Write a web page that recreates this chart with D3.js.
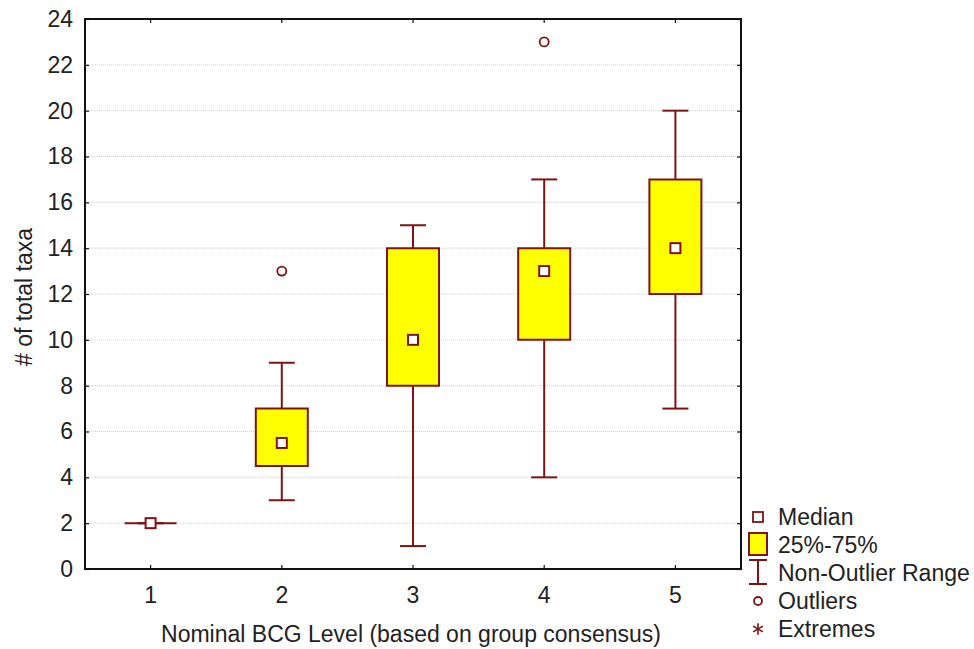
<!DOCTYPE html>
<html>
<head>
<meta charset="utf-8">
<script src="https://cdn.jsdelivr.net/npm/d3@7"></script>
<style>
  html, body { margin: 0; padding: 0; background: #fff; }
  svg { display: block; font-family: "Liberation Sans", Arial, sans-serif; }
</style>
</head>
<body>
<svg id="chart" width="974" height="649"></svg>
<script>
// BCG level groups and their box statistics
const levels = ["1", "2", "3", "4", "5"];
const medians = [2, 5.5, 10, 13, 14];
const q1 = [2, 4.5, 8, 10, 12];
const q3 = [2, 7, 14, 14, 17];
const whiskerLow = [2, 3, 1, 4, 7];
const whiskerHigh = [2, 9, 15, 17, 20];
const outliers = [[], [13], [], [23], []];
const yTicks = [0, 2, 4, 6, 8, 10, 12, 14, 16, 18, 20, 22, 24];
const legendItems = ["Median", "25%-75%", "Non-Outlier Range", "Outliers", "Extremes"];

(function draw() {
  const svg = d3.select("#chart");
  const plot = { left: 85, top: 19, right: 741, bottom: 569 };
  const MAROON = "#7d1414";
  const YELLOW = "#ffff00";
  const FS = 23;

  const x = d3.scaleBand().domain(levels).range([plot.left, plot.right]);
  const y = d3.scaleLinear().domain([0, 24]).range([plot.bottom, plot.top]);
  const cx = d => x(d) + x.bandwidth() / 2;
  const boxW = 52, capW = 26, medS = 10;

  // dotted horizontal grid lines
  svg.append("g")
    .selectAll("line")
    .data(yTicks.filter(t => t > 0 && t < 24))
    .join("line")
    .attr("x1", plot.left).attr("x2", plot.right)
    .attr("y1", d => y(d)).attr("y2", d => y(d))
    .attr("stroke", "#cfcfcf").attr("stroke-width", 1)
    .attr("stroke-dasharray", "1,1");

  // axes: ticks point into the plot on all four sides
  const axisFont = g => g.selectAll("text")
    .attr("font-size", FS).attr("fill", "#222")
    .attr("font-family", "Liberation Sans, Arial, sans-serif");
  const tickStyle = g => {
    g.select(".domain").remove();
    g.selectAll("line").attr("stroke", "#111").attr("stroke-width", 1.2);
  };

  const axLeft = svg.append("g").attr("transform", `translate(${plot.left},0)`)
    .call(d3.axisLeft(y).tickValues(yTicks).tickSizeInner(-4).tickSizeOuter(0).tickPadding(12).tickFormat(d3.format("d")));
  axLeft.call(axisFont).call(tickStyle);

  const axRight = svg.append("g").attr("transform", `translate(${plot.right},0)`)
    .call(d3.axisRight(y).tickValues(yTicks).tickSizeInner(-4).tickSizeOuter(0).tickFormat(""));
  axRight.call(tickStyle);

  const axBottom = svg.append("g").attr("transform", `translate(0,${plot.bottom})`)
    .call(d3.axisBottom(x).tickSizeInner(-4).tickSizeOuter(0).tickPadding(18));
  axBottom.call(axisFont).call(tickStyle);

  const axTop = svg.append("g").attr("transform", `translate(0,${plot.top})`)
    .call(d3.axisTop(x).tickSizeInner(-4).tickSizeOuter(0).tickFormat(""));
  axTop.call(tickStyle);

  // plot frame
  svg.append("rect")
    .attr("x", plot.left).attr("y", plot.top)
    .attr("width", plot.right - plot.left).attr("height", plot.bottom - plot.top)
    .attr("fill", "none").attr("stroke", "#111").attr("stroke-width", 2);

  // box plots
  const groups = svg.append("g").selectAll("g")
    .data(levels.map((lv, i) => ({ lv, i })))
    .join("g");

  // whiskers
  groups.append("line")
    .attr("x1", d => cx(d.lv)).attr("x2", d => cx(d.lv))
    .attr("y1", d => y(whiskerLow[d.i])).attr("y2", d => y(whiskerHigh[d.i]))
    .attr("stroke", MAROON).attr("stroke-width", 2);
  [whiskerLow, whiskerHigh].forEach(arr => {
    groups.append("line")
      .attr("x1", d => cx(d.lv) - capW / 2).attr("x2", d => cx(d.lv) + capW / 2)
      .attr("y1", d => y(arr[d.i])).attr("y2", d => y(arr[d.i]))
      .attr("stroke", MAROON).attr("stroke-width", 2);
  });

  // interquartile boxes (a path, so a collapsed box still shows as a line)
  groups.append("path")
    .attr("d", d => {
      const x0 = cx(d.lv) - boxW / 2, x1 = cx(d.lv) + boxW / 2;
      const yt = y(q3[d.i]), yb = y(q1[d.i]);
      return `M${x0},${yt}H${x1}V${yb}H${x0}Z`;
    })
    .attr("fill", YELLOW).attr("stroke", MAROON).attr("stroke-width", 2);

  // medians
  groups.append("rect")
    .attr("x", d => cx(d.lv) - medS / 2)
    .attr("y", d => y(medians[d.i]) - medS / 2)
    .attr("width", medS).attr("height", medS)
    .attr("fill", "#fff").attr("stroke", MAROON).attr("stroke-width", 2);

  // outliers
  groups.selectAll("circle")
    .data(d => outliers[d.i].map(v => ({ lv: d.lv, v })))
    .join("circle")
    .attr("cx", d => cx(d.lv)).attr("cy", d => y(d.v))
    .attr("r", 4.5)
    .attr("fill", "#fff").attr("stroke", MAROON).attr("stroke-width", 1.8);

  // axis titles
  svg.append("text")
    .attr("x", 411).attr("y", 642)
    .attr("text-anchor", "middle")
    .attr("font-size", FS).attr("fill", "#222")
    .text("Nominal BCG Level (based on group consensus)");

  svg.append("text")
    .attr("transform", "translate(32,297) rotate(-90)")
    .attr("text-anchor", "middle")
    .attr("font-size", FS).attr("fill", "#222")
    .text("# of total taxa");

  // legend
  const lg = svg.append("g");
  const lx = 758, ly0 = 517, lstep = 28;
  legendItems.forEach((label, i) => {
    const yy = ly0 + i * lstep;
    const g = lg.append("g");
    if (i === 0) {
      g.append("rect").attr("x", lx - 5).attr("y", yy - 5).attr("width", 10).attr("height", 10)
        .attr("fill", "#fff").attr("stroke", MAROON).attr("stroke-width", 1.8);
    } else if (i === 1) {
      g.append("rect").attr("x", lx - 9).attr("y", yy - 12).attr("width", 18).attr("height", 22)
        .attr("fill", YELLOW).attr("stroke", MAROON).attr("stroke-width", 2);
    } else if (i === 2) {
      g.append("line").attr("x1", lx).attr("x2", lx).attr("y1", yy - 13).attr("y2", yy + 11)
        .attr("stroke", MAROON).attr("stroke-width", 2);
      g.append("line").attr("x1", lx - 9).attr("x2", lx + 9).attr("y1", yy - 13).attr("y2", yy - 13)
        .attr("stroke", MAROON).attr("stroke-width", 2);
      g.append("line").attr("x1", lx - 9).attr("x2", lx + 9).attr("y1", yy + 11).attr("y2", yy + 11)
        .attr("stroke", MAROON).attr("stroke-width", 2);
    } else if (i === 3) {
      g.append("circle").attr("cx", lx).attr("cy", yy).attr("r", 4)
        .attr("fill", "#fff").attr("stroke", MAROON).attr("stroke-width", 1.8);
    } else {
      const s = d3.symbol().type(d3.symbolAsterisk).size(90);
      g.append("path").attr("transform", `translate(${lx},${yy})`).attr("d", s())
        .attr("fill", "none").attr("stroke", MAROON).attr("stroke-width", 1.6);
    }
    g.append("text").attr("x", 778).attr("y", yy + 8)
      .attr("font-size", FS).attr("fill", "#222").text(label);
  });
})();
</script>
</body>
</html>
